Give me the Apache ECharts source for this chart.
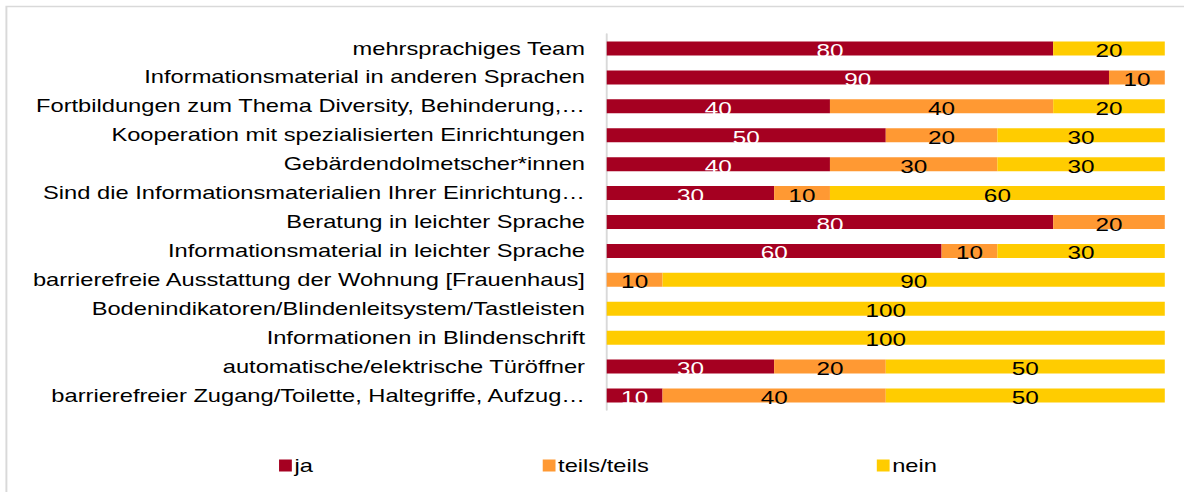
<!DOCTYPE html>
<html>
<head>
<meta charset="utf-8">
<script src="https://cdn.jsdelivr.net/npm/echarts@6/dist/echarts.min.js"></script>
<style>
  html, body { margin: 0; padding: 0; background: #fff; overflow: hidden; }
  /* the source picture is stretched horizontally, so the chart is drawn narrower and widened */
  #chart { width: 925px; height: 492px; transform: scaleX(1.28); transform-origin: 0 0; }
</style>
</head>
<body>
<div id="chart"></div>
<script>
const categories = [
  'mehrsprachiges Team',
  'Informationsmaterial in anderen Sprachen',
  'Fortbildungen zum Thema Diversity, Behinderung,…',
  'Kooperation mit spezialisierten Einrichtungen',
  'Gebärdendolmetscher*innen',
  'Sind die Informationsmaterialien Ihrer Einrichtung…',
  'Beratung in leichter Sprache',
  'Informationsmaterial in leichter Sprache',
  'barrierefreie Ausstattung der Wohnung [Frauenhaus]',
  'Bodenindikatoren/Blindenleitsystem/Tastleisten',
  'Informationen in Blindenschrift',
  'automatische/elektrische Türöffner',
  'barrierefreier Zugang/Toilette, Haltegriffe, Aufzug…'
]
const ja = [80, 90, 40, 50, 40, 30, 80, 60, 0, 0, 0, 30, 10]
const teils = [0, 10, 40, 20, 30, 10, 20, 10, 10, 0, 0, 20, 40]
const nein = [20, 0, 20, 30, 30, 60, 0, 30, 90, 100, 100, 50, 50]

const seriesNames = ['ja', 'teils/teils', 'nein']
const colors = ['#A50021', '#FF9933', '#FFCC00']
const labelColors = ['#ffffff', '#000000', '#000000']
const font = 'Liberation Sans, Arial, sans-serif'

const chart = echarts.init(document.getElementById('chart'), null, { renderer: 'svg' })

const makeSeries = (name, data, i) => ({
  name,
  type: 'bar',
  stack: 'total',
  data,
  barWidth: 14,
  itemStyle: { color: colors[i] },
  label: {
    show: true,
    position: 'inside',
    offset: [0, 2],
    color: labelColors[i],
    fontSize: 19,
    fontFamily: font,
    formatter: p => (p.value ? p.value : '')
  }
})

const legendLeft = [213, 419, 680]

chart.setOption({
  animation: false,
  graphic: [{
    type: 'rect',
    shape: { x: 5, y: 6.5, width: 1000, height: 500 },
    style: { fill: 'none', stroke: '#d9d9d9', lineWidth: 1.5 }
  }],
  legend: seriesNames.map((n, i) => ({
    data: [n],
    left: legendLeft[i],
    top: 451,
    icon: 'rect',
    itemWidth: 10,
    itemHeight: 12,
    itemGap: 4,
    textStyle: { fontSize: 18.5, fontFamily: font, color: '#000', padding: [0, 0, 0, -3] },
    selectedMode: false
  })),
  grid: { left: 474, right: 15, top: 34, bottom: 82 },
  xAxis: {
    type: 'value',
    min: 0,
    max: 100,
    show: false
  },
  yAxis: {
    type: 'category',
    data: categories,
    inverse: true,
    axisLine: { lineStyle: { color: '#d9d9d9', width: 1.5 } },
    axisTick: { show: false },
    axisLabel: { fontSize: 18.5, fontFamily: font, color: '#000', margin: 17 }
  },
  series: [
    makeSeries(seriesNames[0], ja, 0),
    makeSeries(seriesNames[1], teils, 1),
    makeSeries(seriesNames[2], nein, 2)
  ]
})
</script>
</body>
</html>
